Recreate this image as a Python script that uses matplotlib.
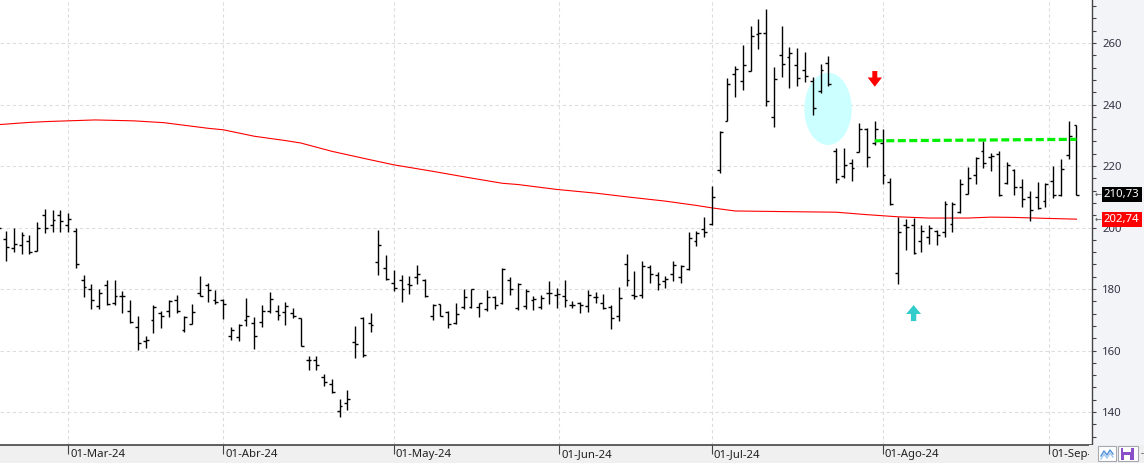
import matplotlib
matplotlib.use("Agg")
import matplotlib.pyplot as plt
import matplotlib.transforms as mtransforms
from matplotlib.patches import Ellipse, FancyArrow, Rectangle
from matplotlib.ticker import MultipleLocator, FixedLocator
from matplotlib.lines import Line2D

plt.rcParams['font.family'] = ['Noto Sans', 'DejaVu Sans']

# daily OHLC bars (index 0 = first, partly hidden bar)
opens = [198.0, 196.4, 193.5, 194.2, 195.5, 192.4, 204.2, 200.8, 204.2, 200.8,
         198.9, 183.0, 180.1, 174.6, 181.4, 175.4, 177.7, 173.0, 167.8, 163.0,
         170.0, 172.2, 173.0, 176.6, 166.7, 168.6, 178.8, 181.4, 176.3, 176.5,
         164.6, 164.3, 170.0, 169.0, 169.4, 173.0, 173.0, 172.7, 172.2, 170.5,
         156.9, 156.9, 151.5, 149.2, 140.3, 143.0, 162.9, 170.5, 169.0, 188.8,
         186.9, 182.1, 183.1, 181.6, 183.8, 183.1, 171.4, 175.1, 172.6, 169.0,
         174.3, 174.2, 174.3, 173.4, 177.5, 175.4, 183.1, 174.0, 174.5, 176.4,
         174.2, 178.7, 178.1, 177.8, 174.7, 175.4, 174.5, 177.3, 175.6, 174.2,
         171.2, 188.2, 178.0, 178.0, 187.1, 184.7, 182.5, 184.9, 183.8, 186.6,
         195.6, 199.5, 201.0, 218.6, 234.5, 249.9, 247.7, 250.9, 262.9, 263.3,
         235.9, 256.2, 255.4, 252.9, 251.2, 247.8, 244.3, 253.4, 224.9, 216.7,
         221.1, 224.7, 232.2, 227.6, 227.6, 214.8, 185.2, 200.9, 200.9, 195.7,
         196.9, 198.9, 198.4, 201.3, 205.1, 210.8, 217.1, 224.9, 222.9, 224.0,
         214.6, 218.6, 213.2, 209.9, 209.9, 208.6, 215.1, 210.5, 223.6, 233.3]
highs = [203.0, 198.9, 199.7, 198.4, 197.7, 201.9, 205.9, 205.7, 205.7, 204.6,
         200.0, 184.6, 181.7, 180.1, 182.8, 183.0, 179.5, 176.3, 171.4, 164.8,
         174.8, 173.0, 176.3, 178.1, 171.4, 175.2, 184.4, 182.0, 179.8, 176.8,
         167.8, 168.6, 177.1, 171.0, 174.8, 179.2, 174.8, 175.9, 173.9, 170.6,
         158.3, 158.3, 152.3, 150.7, 144.1, 147.1, 168.1, 170.8, 172.2, 199.1,
         191.2, 186.1, 184.6, 184.4, 187.7, 183.3, 175.3, 175.3, 172.9, 175.4,
         180.0, 180.0, 175.6, 179.8, 177.8, 186.9, 183.8, 181.9, 180.0, 177.8,
         178.0, 182.7, 180.3, 183.0, 176.2, 175.8, 179.7, 179.1, 178.4, 174.8,
         180.8, 191.3, 186.0, 189.0, 187.7, 185.5, 184.2, 189.0, 187.9, 198.4,
         199.0, 203.3, 213.4, 231.4, 248.5, 252.6, 259.5, 265.7, 267.8, 271.1,
         252.1, 265.7, 258.6, 258.4, 257.2, 249.0, 253.2, 255.9, 226.0, 226.0,
         222.2, 234.1, 232.5, 234.7, 232.0, 216.0, 203.5, 202.7, 203.2, 200.9,
         200.9, 199.1, 208.6, 208.3, 215.7, 219.7, 222.9, 228.3, 224.3, 224.9,
         221.4, 218.9, 215.7, 211.9, 214.8, 214.6, 220.0, 222.2, 234.8, 233.5]
lows = [196.0, 189.1, 192.0, 191.5, 191.5, 192.3, 198.3, 198.6, 198.6, 198.6,
        186.8, 177.3, 173.5, 173.5, 174.8, 174.8, 172.1, 169.0, 160.2, 160.7,
        165.6, 167.2, 170.8, 172.1, 166.2, 168.6, 177.6, 175.9, 175.2, 170.3,
        163.4, 163.0, 167.9, 160.5, 167.8, 172.1, 169.9, 168.3, 170.6, 161.5,
        153.6, 153.6, 148.5, 146.3, 138.5, 140.8, 157.5, 158.0, 166.2, 184.6,
        183.0, 179.5, 175.9, 178.4, 181.6, 177.5, 170.1, 171.2, 167.4, 168.7,
        173.4, 173.7, 171.0, 172.9, 173.4, 175.1, 178.0, 173.2, 173.6, 173.1,
        173.6, 175.3, 174.0, 174.3, 173.7, 172.1, 172.6, 175.6, 173.6, 167.1,
        169.6, 181.1, 176.7, 177.0, 181.9, 179.7, 180.5, 182.5, 182.0, 186.3,
        194.1, 197.0, 200.8, 217.8, 234.5, 242.3, 244.7, 250.8, 258.0, 239.6,
        232.8, 248.8, 245.5, 246.1, 247.4, 236.6, 243.7, 246.1, 214.6, 216.2,
        215.1, 224.7, 219.8, 226.7, 214.3, 207.4, 181.8, 192.6, 191.4, 191.9,
        194.8, 194.4, 196.8, 198.7, 204.9, 210.8, 214.1, 219.5, 218.4, 210.3,
        214.1, 210.6, 206.7, 202.2, 205.9, 206.7, 209.5, 210.3, 222.2, 210.5]
closes = [200.0, 193.7, 194.8, 197.5, 192.0, 199.7, 200.0, 202.4, 202.1, 202.9,
          188.2, 180.8, 176.5, 178.8, 175.2, 177.9, 177.6, 169.2, 162.4, 163.5,
          174.1, 171.4, 176.0, 173.0, 171.0, 172.7, 177.7, 179.7, 175.7, 175.2,
          166.7, 168.4, 171.4, 164.8, 173.0, 176.8, 171.7, 174.6, 171.1, 161.5,
          156.9, 155.3, 149.8, 146.5, 141.9, 144.3, 162.1, 158.5, 168.3, 194.2,
          183.3, 180.2, 180.0, 181.4, 184.9, 177.6, 174.8, 171.4, 168.5, 171.8,
          177.5, 180.0, 175.6, 177.5, 174.8, 186.6, 180.0, 181.6, 179.5, 176.7,
          177.0, 178.7, 178.4, 176.5, 174.7, 174.8, 178.1, 177.5, 174.0, 170.7,
          177.0, 183.0, 177.6, 187.4, 184.9, 181.6, 183.3, 187.9, 187.4, 196.5,
          198.1, 198.5, 210.0, 231.2, 246.6, 251.5, 252.9, 262.4, 263.3, 241.2,
          248.3, 253.3, 256.8, 248.5, 249.3, 239.0, 251.4, 246.6, 215.7, 220.3,
          219.5, 232.2, 222.8, 232.0, 217.1, 207.6, 198.6, 200.2, 191.7, 198.9,
          199.8, 197.5, 207.8, 207.6, 214.1, 216.0, 222.5, 220.9, 223.2, 210.5,
          220.3, 213.2, 209.2, 205.7, 206.3, 214.3, 210.5, 219.2, 229.9, 210.73]

# moving average (red), read at a few bar positions
ma_idx = [0.2, 4, 6.5, 12.5, 17.5, 21.4, 24.5, 27, 29, 33, 37, 39, 43, 47.5, 51,
          56, 60.5, 65, 67, 72, 77, 81, 86, 90, 92, 95, 101, 108, 112, 116, 120,
          125, 128, 131, 135, 139]
ma_val = [233.5, 234.2, 234.5, 235.0, 234.7, 234.1, 233.1, 232.3, 231.8, 229.7,
          228.3, 227.5, 224.8, 222.3, 220.4, 218.3, 216.3, 214.4, 214.0, 212.4,
          211.2, 210.0, 208.6, 207.2, 206.4, 205.4, 205.2, 205.0, 204.2, 203.5,
          203.1, 203.1, 203.4, 203.3, 203.0, 202.74]

# green resistance line
res_idx = [113, 139]
res_val = [228.2, 228.7]

# date axis
tick_pos = [9, 29, 51, 72.35, 92, 114, 135.5]
tick_labels = ['01-Mar-24', '01-Abr-24', '01-May-24', '01-Jun-24',
               '01-Jul-24', '01-Ago-24', '01-Sep-24']

# annotations
sell_idx, sell_top, sell_tip = 113, 250.9, 245.8
buy_idx, buy_bottom, buy_tip = 118, 169.6, 174.8
circle_idx, circle_val = 106.97, 238.6

W, H = 1144, 463
fig = plt.figure(figsize=(W / 100, H / 100), dpi=100, facecolor='#f0f0f0')
ax = fig.add_axes([0, 18 / H, 1092 / W, 445 / H])
ax.set_facecolor('white')

# right price-scale panel
fig.add_artist(Rectangle((1092 / W, 18 / H), 52 / W, 445 / H,
                         transform=fig.transFigure, fc='#f3f4f8', ec='none', zorder=-1))

x = list(range(len(closes)))
tk = 0.37
ax.add_patch(Ellipse((circle_idx, circle_val), 6.11, 23.5, fc='#ccffff', ec='none', zorder=1))
ax.vlines(x, lows, highs, color='black', lw=1.0, zorder=3)
ax.hlines(opens, [i - tk for i in x], x, color='black', lw=1.0, zorder=3)
ax.hlines(closes, x, [i + tk for i in x], color='black', lw=1.0, zorder=3)

ax.plot(ma_idx, ma_val, color='#ff0000', lw=0.8, zorder=2)
ax.plot(res_idx, res_val, color='#00f000', lw=2.3, dashes=(2.5, 1.1), zorder=4)

ax.add_patch(FancyArrow(sell_idx, sell_top, 0, sell_tip - sell_top, width=0.64,
                        head_width=1.84, head_length=3.0, length_includes_head=True,
                        fc='#ff0000', ec='none', zorder=5))
ax.add_patch(FancyArrow(buy_idx, buy_bottom, 0, buy_tip - buy_bottom, width=0.69,
                        head_width=1.93, head_length=2.9, length_includes_head=True,
                        fc='#33cccc', ec='none', zorder=5))

ax.set_xlim(0.226, 141.0)
ax.set_ylim(129.3, 274.0)

ax.yaxis.tick_right()
ax.yaxis.set_major_locator(MultipleLocator(20))
ax.yaxis.set_minor_locator(MultipleLocator(4))
ax.tick_params(axis='y', which='both', direction='out', length=3, width=0.8,
               color='#444444', labelsize=8.2, labelcolor='#333344', pad=4.5)
ax.set_yticks([140, 160, 180, 200, 220, 240, 260])

ax.xaxis.set_major_locator(FixedLocator(tick_pos))
ax.set_xticklabels(tick_labels, ha='left')
ax.tick_params(axis='x', direction='out', length=6.5, width=0.8, color='#444444',
               labelsize=8.2, labelcolor='#222222', pad=-3.5)
for lab in ax.get_xticklabels():
    lab.set_transform(lab.get_transform() + mtransforms.ScaledTranslation(2 / 100, 0, fig.dpi_scale_trans))

ax.grid(True, which='major', color='#dddddd', lw=0.8, linestyle=(0, (3, 2.5)))
ax.set_axisbelow(True)

for s in ['top', 'left']:
    ax.spines[s].set_visible(False)
ax.spines['right'].set_color('#444444')
ax.spines['bottom'].set_color('#444444')
ax.spines['right'].set_linewidth(1.0)
ax.spines['bottom'].set_linewidth(1.2)

# last value labels on the price scale
trans = mtransforms.blended_transform_factory(ax.transAxes, ax.transData)
last_close = closes[-1]
last_ma = ma_val[-1]
for val, bg in [(last_close, 'black'), (last_ma, '#ff0000')]:
    ax.text(1104 / 1092, val, f"{val:.2f}".replace('.', ','), transform=trans,
            ha='left', va='center', fontsize=8.2, color='white', clip_on=False, zorder=10,
            bbox=dict(boxstyle='square,pad=0.18', fc=bg, ec='none'))
    ax.text(1094.5 / 1092, val, '\u2190', transform=trans, ha='left', va='center',
            fontsize=6, color='#555555', clip_on=False, zorder=10, family='DejaVu Sans')

# bottom-right toolbar icons
def fr(px, py, w, h):
    return (px / W, 1 - (py + h) / H), w / W, h / H

xy, w, h = fr(1089, 445, 55, 18)
fig.add_artist(Rectangle(xy, w, h, transform=fig.transFigure, fc='#f0f0f0', ec='none', zorder=6))
xy, w, h = fr(1098, 446, 18, 15)
fig.add_artist(Rectangle(xy, w, h, transform=fig.transFigure, fc='white', ec='#a8a8b0', lw=0.8, zorder=7))
xy, w, h = fr(1118, 446, 20, 15)
fig.add_artist(Rectangle(xy, w, h, transform=fig.transFigure, fc='white', ec='#a8a8b0', lw=0.8, zorder=7))
for dy, c in [(0, '#4f8fd8'), (3, '#9ec6ee')]:
    zx = [1101, 1104, 1107, 1110, 1113]
    zy = [456 + dy, 451 + dy, 455 + dy, 450 + dy, 454 + dy]
    fig.add_artist(Line2D([v / W for v in zx], [1 - v / H for v in zy],
                          transform=fig.transFigure, color=c, lw=1.0, zorder=8))
xy, w, h = fr(1121, 448, 13, 12)
fig.add_artist(Rectangle(xy, w, h, transform=fig.transFigure, fc='#8a4fc8', ec='none', zorder=8))
xy, w, h = fr(1123, 448, 8, 4)
fig.add_artist(Rectangle(xy, w, h, transform=fig.transFigure, fc='white', ec='none', zorder=9))
xy, w, h = fr(1124, 455, 6, 5)
fig.add_artist(Rectangle(xy, w, h, transform=fig.transFigure, fc='white', ec='none', zorder=9))
fig.text(1141 / W, 1 - 454 / H, '-', fontsize=7, color='#444444', va='center', zorder=9)

fig.savefig('out.png', dpi=100, facecolor=fig.get_facecolor())
